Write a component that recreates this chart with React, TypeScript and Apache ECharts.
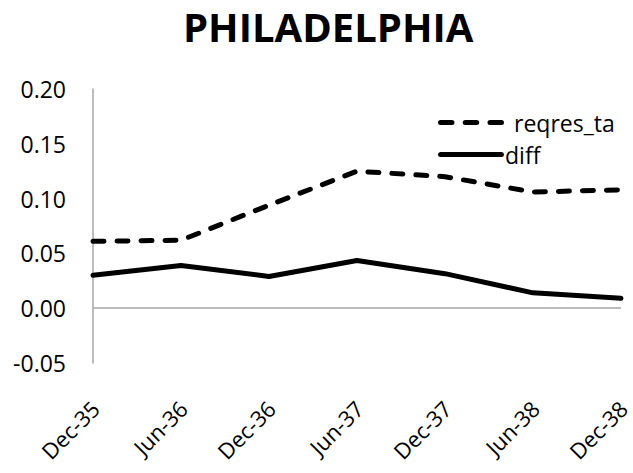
import React, { useEffect, useRef } from "react";
import * as echarts from "echarts";

const categories = ["Dec-35", "Jun-36", "Dec-36", "Jun-37", "Dec-37", "Jun-38", "Dec-38"];
const reqresTa = [0.061, 0.062, 0.094, 0.125, 0.12, 0.106, 0.108];
const diff = [0.03, 0.039, 0.029, 0.0435, 0.0315, 0.014, 0.009];
const yTicks = { min: -0.05, max: 0.2, interval: 0.05 };

const FONT = "'Open Sans', 'Noto Sans', sans-serif";

const DASH_ICON =
  "path://M2.5,0h11a2.5,2.5 0 0 1 0,5h-11a2.5,2.5 0 0 1 0,-5z M26.5,0h11a2.5,2.5 0 0 1 0,5h-11a2.5,2.5 0 0 1 0,-5z M50.5,0h11a2.5,2.5 0 0 1 0,5h-11a2.5,2.5 0 0 1 0,-5z";
const SOLID_ICON = "path://M2.5,0h63a2.5,2.5 0 0 1 0,5h-63a2.5,2.5 0 0 1 0,-5z";

export default function App() {
  const ref = useRef<HTMLDivElement>(null);
  useEffect(() => {
    const chart = echarts.init(ref.current!, null, { renderer: "svg" });
    chart.setOption({
      animation: false,
      backgroundColor: "#ffffff",
      title: {
        text: "PHILADELPHIA",
        left: 183,
        top: 6,
        padding: 0,
        textStyle: { fontFamily: FONT, fontWeight: "bold", fontSize: 40, lineHeight: 40, color: "#000" },
      },
      legend: {
        orient: "vertical",
        left: 433,
        top: 106,
        itemWidth: 66,
        itemHeight: 5,
        itemGap: 9,
        symbolKeepAspect: false,
        textStyle: { fontFamily: FONT, fontSize: 23, color: "#000" },
        data: [
          { name: "reqres_ta", icon: DASH_ICON, textStyle: { padding: [0, 0, 0, 5] } },
          { name: "diff", icon: SOLID_ICON, textStyle: { padding: [0, 0, 0, -4] } },
        ],
      },
      grid: { left: 93, right: 8, top: 89, bottom: 110, containLabel: false },
      xAxis: {
        type: "category",
        data: categories,
        boundaryGap: false,
        axisLine: { show: false, onZero: false },
        axisTick: { show: false },
        axisLabel: {
          rotate: 45,
          margin: 28,
          verticalAlign: "top",
          padding: [0, 8, 0, 0],
          fontFamily: FONT,
          fontSize: 22,
          color: "#000",
        },
        splitLine: { show: false },
      },
      yAxis: {
        type: "value",
        min: yTicks.min,
        max: yTicks.max,
        interval: yTicks.interval,
        axisLine: { show: true, lineStyle: { color: "#a6a6a6", width: 1.5 } },
        axisTick: { show: false },
        splitLine: { show: false },
        axisLabel: {
          margin: 27,
          fontFamily: FONT,
          fontSize: 23,
          color: "#000",
          formatter: (v: number) => v.toFixed(2),
        },
      },
      series: [
        {
          name: "reqres_ta",
          type: "line",
          data: reqresTa,
          symbol: "none",
          lineStyle: { color: "#000", width: 5, type: [11, 13], cap: "round", join: "round" },
          itemStyle: { color: "#000" },
          markLine: {
            silent: true,
            symbol: "none",
            label: { show: false },
            lineStyle: { color: "#a6a6a6", width: 1.5, type: "solid" },
            data: [{ yAxis: 0 }],
          },
          z: 3,
        },
        {
          name: "diff",
          type: "line",
          data: diff,
          symbol: "none",
          lineStyle: { color: "#000", width: 5, cap: "round", join: "round" },
          itemStyle: { color: "#000" },
          z: 3,
        },
      ],
    });
    return () => chart.dispose();
  }, []);
  return (
    <div
      ref={ref}
      style={{ position: "fixed", left: 0, top: 0, width: 633, height: 473 }}
    />
  );
}
